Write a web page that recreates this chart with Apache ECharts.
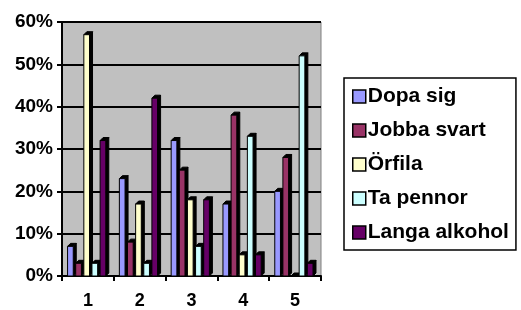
<!DOCTYPE html>
<html>
<head>
<meta charset="utf-8">
<script src="https://cdn.jsdelivr.net/npm/echarts@6/dist/echarts.min.js"></script>
<style>
  html, body { margin: 0; padding: 0; background: #fff; }
  #chart { width: 521px; height: 310px; }
</style>
</head>
<body>
<div id="chart"></div>
<script>
const categories = ['1', '2', '3', '4', '5'];
const seriesNames = ['Dopa sig', 'Jobba svart', 'Örfila', 'Ta pennor', 'Langa alkohol'];
const dopaSig = [7, 23, 32, 17, 20];
const jobbaSvart = [3, 8, 25, 38, 28];
const orfila = [57, 17, 18, 5, 0];
const taPennor = [3, 3, 7, 33, 52];
const langaAlkohol = [32, 42, 18, 5, 3];
const yTicks = [0, 10, 20, 30, 40, 50, 60];

const seriesValues = [dopaSig, jobbaSvart, orfila, taPennor, langaAlkohol];
const colors = ['#9999ff', '#993366', '#ffffcc', '#ccffff', '#660066'];

// 3D-ish excel bar: front face + black side and top
const makeRender = idx => (params, api) => {
  const cat = api.value(0);
  const val = api.value(1);
  const base = api.coord([cat, 0]);
  const top = api.coord([cat, val]);
  const band = api.size([1, 0])[0];
  const stride = band * 0.157;
  const w = stride * 0.7;
  const d = 3;
  const x = base[0] - stride * 2.5 + idx * stride;
  const h = base[1] - top[1];
  return {
    type: 'group',
    children: [
      {
        type: 'polygon',
        shape: { points: [[x + w, top[1]], [x + w + d, top[1] - d], [x + w + d, base[1] - d], [x + w, base[1]]] },
        style: { fill: '#000', stroke: '#000', lineWidth: 1 }
      },
      {
        type: 'polygon',
        shape: { points: [[x, top[1]], [x + d, top[1] - d], [x + w + d, top[1] - d], [x + w, top[1]]] },
        style: { fill: '#000', stroke: '#000', lineWidth: 1 }
      },
      {
        type: 'rect',
        shape: { x: x, y: top[1], width: w, height: h },
        style: { fill: colors[idx], stroke: '#000', lineWidth: 1 }
      }
    ]
  };
};

const chart = echarts.init(document.getElementById('chart'));
chart.setOption({
  animation: false,
  backgroundColor: '#fff',
  grid: {
    left: 62, right: 200, top: 22, bottom: 30,
    show: true, backgroundColor: '#c0c0c0', borderColor: '#808080', borderWidth: 1
  },
  legend: {
    orient: 'vertical',
    left: 344, top: 78,
    padding: [8, 7, 7, 8],
    itemGap: 13,
    itemWidth: 13, itemHeight: 13,
    icon: 'rect',
    borderColor: '#000', borderWidth: 1.5,
    itemStyle: { borderColor: '#000', borderWidth: 1.5 },
    textStyle: { fontFamily: 'Liberation Sans', fontWeight: 'bold', fontSize: 21, color: '#000', padding: [0, 0, 0, -3] },
    data: seriesNames
  },
  xAxis: {
    type: 'category',
    data: categories,
    axisLine: { lineStyle: { color: '#000', width: 2 } },
    axisTick: { show: true, length: 5, lineStyle: { color: '#000', width: 2 } },
    axisLabel: { margin: 16, fontFamily: 'Liberation Sans', fontWeight: 'bold', fontSize: 18, color: '#000' }
  },
  yAxis: {
    type: 'value',
    min: yTicks[0], max: yTicks[yTicks.length - 1], interval: 10,
    axisLine: { show: true, lineStyle: { color: '#000', width: 2 } },
    axisTick: { show: true, length: 5, lineStyle: { color: '#000', width: 2 } },
    axisLabel: { margin: 9, formatter: '{value}%', fontFamily: 'Liberation Sans', fontWeight: 'bold', fontSize: 19, color: '#000' },
    splitLine: { lineStyle: { color: '#000', width: 2 } }
  },
  series: seriesNames.map((name, i) => ({
    name: name,
    type: 'custom',
    itemStyle: { color: colors[i] },
    renderItem: makeRender(i),
    encode: { x: 0, y: 1 },
    data: seriesValues[i].map((v, j) => [j, v])
  }))
});
</script>
</body>
</html>
